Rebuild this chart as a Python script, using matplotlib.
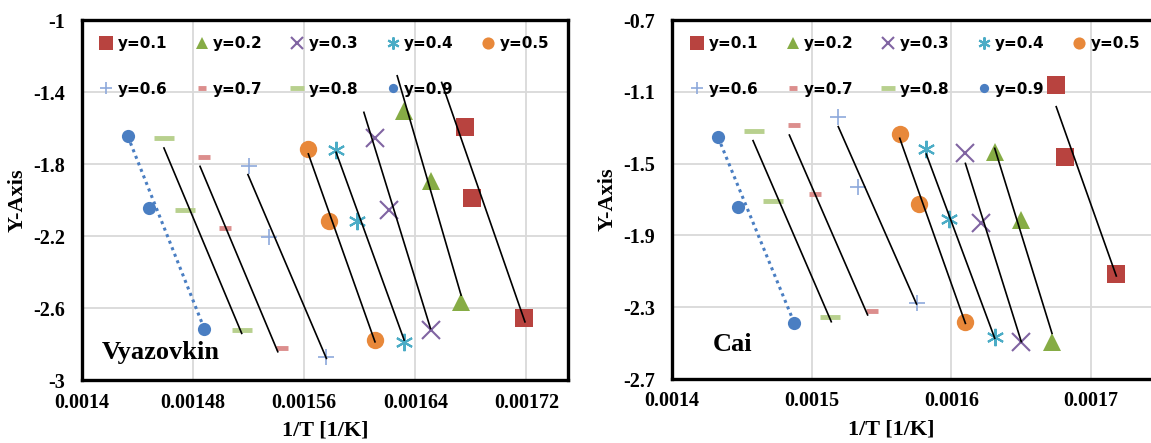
import numpy as np
import matplotlib.pyplot as plt

# series names and styles (Excel-like)
labels = ['y=0.1', 'y=0.2', 'y=0.3', 'y=0.4', 'y=0.5', 'y=0.6', 'y=0.7', 'y=0.8', 'y=0.9']
colors = ['#B8433F', '#86AC45', '#8064A2', '#4BACC6', '#E8883A', '#8EA9DB', '#DC8E8D', '#B8D08E', '#4A7EC2']
markers = ['s', '^', 'x', (6, 2, 0), 'o', '+', '_', '_', 'o']
msizes = [13.5, 13, 12.5, 12.5, 12.5, 12, 8, 14, 9.5]
mews = [0, 0, 1.5, 1.5, 0, 1.2, 3.5, 3.5, 0]

# Vyazovkin panel: 1/T and Y values for each conversion
vyaz_x = [[0.001676, 0.001681, 0.001718],
          [0.001632, 0.001651, 0.001673],
          [0.001611, 0.001621, 0.001651],
          [0.001583, 0.001598, 0.001632],
          [0.001563, 0.001578, 0.001611],
          [0.001520, 0.001535, 0.001576],
          [0.001488, 0.001503, 0.001544],
          [0.001459, 0.001474, 0.001515],
          [0.001433, 0.001448, 0.001488]]
vyaz_y = [[-1.597, -1.990, -2.655],
          [-1.504, -1.892, -2.566],
          [-1.657, -2.053, -2.723],
          [-1.720, -2.117, -2.788],
          [-1.717, -2.114, -2.778],
          [-1.809, -2.206, -2.874],
          [-1.759, -2.156, -2.821],
          [-1.656, -2.053, -2.723],
          [-1.646, -2.043, -2.714]]
# trend lines (start / end)
vyaz_fit_x = [[0.001659, 0.001719], [0.001627, 0.001673], [0.001603, 0.001651],
              [0.001583, 0.001632], [0.001563, 0.001611], [0.0015195, 0.001576],
              [0.001485, 0.001541], [0.001459, 0.001515], [0.001433, 0.001488]]
vyaz_fit_y = [[-1.347, -2.677], [-1.310, -2.529], [-1.513, -2.714],
              [-1.735, -2.778], [-1.744, -2.788], [-1.859, -2.880],
              [-1.813, -2.843], [-1.711, -2.741], [-1.646, -2.714]]

# Cai panel
cai_x = [[0.001675, 0.001681, 0.001718],
         [0.001631, 0.001650, 0.001672],
         [0.001610, 0.001621, 0.001650],
         [0.001582, 0.001598, 0.001631],
         [0.001563, 0.001577, 0.001610],
         [0.001519, 0.001533, 0.001575],
         [0.0014875, 0.001502, 0.001543],
         [0.0014585, 0.0014725, 0.001513],
         [0.001433, 0.001447, 0.0014875]]
cai_y = [[-1.062, -1.461, -2.115],
         [-1.434, -1.814, -2.492],
         [-1.443, -1.833, -2.496],
         [-1.419, -1.809, -2.464],
         [-1.337, -1.725, -2.384],
         [-1.242, -1.629, -2.275],
         [-1.285, -1.669, -2.319],
         [-1.318, -1.707, -2.356],
         [-1.354, -1.742, -2.388]]
cai_fit_x = [[0.001675, 0.001718], [0.001631, 0.001672], [0.001610, 0.001650],
             [0.001582, 0.001631], [0.001563, 0.001610], [0.001519, 0.001575],
             [0.001484, 0.001540], [0.001458, 0.001514], [0.001433, 0.0014875]]
cai_fit_y = [[-1.183, -2.126], [-1.415, -2.446], [-1.499, -2.492],
             [-1.447, -2.473], [-1.359, -2.390], [-1.294, -2.282],
             [-1.341, -2.343], [-1.372, -2.381], [-1.354, -2.388]]

vyaz_xticks = [0.0014, 0.00148, 0.00156, 0.00164, 0.00172]
vyaz_xticklabels = ['0.0014', '0.00148', '0.00156', '0.00164', '0.00172']
vyaz_yticks = [-1, -1.4, -1.8, -2.2, -2.6, -3]
vyaz_yticklabels = ['-1', '-1.4', '-1.8', '-2.2', '-2.6', '-3']
cai_xticks = [0.0014, 0.0015, 0.0016, 0.0017]
cai_xticklabels = ['0.0014', '0.0015', '0.0016', '0.0017']
cai_yticks = [-0.7, -1.1, -1.5, -1.9, -2.3, -2.7]
cai_yticklabels = ['-0.7', '-1.1', '-1.5', '-1.9', '-2.3', '-2.7']

serif = 'Liberation Serif'


def draw_panel(ax, xs, ys, fx, fy, xt, xtl, yt, ytl, ylim, name, name_pos, leg_x, xlab_x):
    for i in range(len(labels)):
        ax.plot(xs[i], ys[i], linestyle='none', marker=markers[i], ms=msizes[i],
                color=colors[i], mew=mews[i], label=labels[i], zorder=2)
        if i == len(labels) - 1:
            ax.plot(fx[i], fy[i], linestyle=(0, (1, 1.3)), color=colors[i], lw=2.2, zorder=3)
        else:
            ax.plot(fx[i], fy[i], color='black', lw=1.2, zorder=3)

    ax.set_xlim(0.0014, 0.00175)
    ax.set_ylim(ylim)
    ax.set_xticks(xt)
    ax.set_xticklabels(xtl)
    ax.set_yticks(yt)
    ax.set_yticklabels(ytl)
    ax.grid(True, color='#D9D9D9', lw=1.3)
    ax.set_axisbelow(True)
    ax.tick_params(length=0, labelsize=14.5)
    ax.tick_params(axis='x', pad=9)
    ax.tick_params(axis='y', pad=12)
    for t in ax.get_xticklabels() + ax.get_yticklabels():
        t.set_fontfamily(serif)
        t.set_fontweight('bold')
    for sp in ax.spines.values():
        sp.set_linewidth(2.4)
        sp.set_color('black')

    ax.set_xlabel('1/T [1/K]', fontsize=16, fontfamily=serif, fontweight='bold')
    ax.xaxis.set_label_coords(xlab_x, -0.112)
    ax.set_ylabel('Y-Axis', fontsize=16, fontfamily=serif, fontweight='bold', labelpad=4)

    ax.text(name_pos[0], name_pos[1], name, transform=ax.transAxes, fontsize=19,
            fontfamily=serif, fontweight='bold', va='center', ha='left')

    h, l = ax.get_legend_handles_labels()
    order = [0, 5, 1, 6, 2, 7, 3, 8, 4]
    ax.legend([h[k] for k in order], [l[k] for k in order], ncol=5,
              loc='upper left', bbox_to_anchor=(leg_x, 0.955), frameon=False,
              prop={'family': 'DejaVu Sans', 'weight': 'bold', 'size': 11},
              markerscale=0.7, handlelength=0.8, handletextpad=0.35,
              columnspacing=1.85, labelspacing=2.0, borderpad=0, borderaxespad=0)


fig = plt.figure(figsize=(11.51, 4.43), dpi=100)
ax1 = fig.add_axes([82 / 1151, 63 / 443, 486 / 1151, 360 / 443])
ax2 = fig.add_axes([672 / 1151, 64 / 443, 489 / 1151, 359 / 443])

draw_panel(ax1, vyaz_x, vyaz_y, vyaz_fit_x, vyaz_fit_y, vyaz_xticks, vyaz_xticklabels,
           vyaz_yticks, vyaz_yticklabels, (-3, -1), 'Vyazovkin', (0.041, 0.075), 0.037, 0.5)
draw_panel(ax2, cai_x, cai_y, cai_fit_x, cai_fit_y, cai_xticks, cai_xticklabels,
           cai_yticks, cai_yticklabels, (-2.7, -0.7), 'Cai', (0.084, 0.095), 0.039, 0.448)

fig.savefig('out.png', dpi=100)
